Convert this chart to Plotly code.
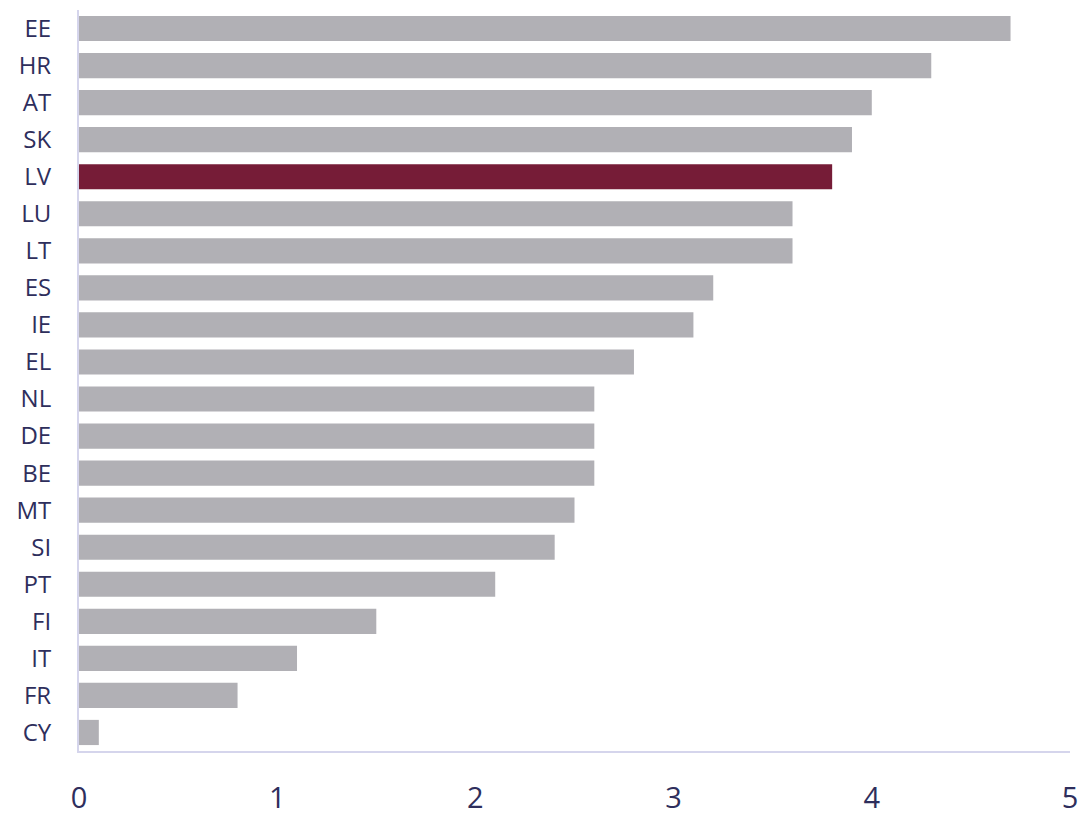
import plotly.graph_objects as go

countries = ["EE", "HR", "AT", "SK", "LV", "LU", "LT", "ES", "IE", "EL",
             "NL", "DE", "BE", "MT", "SI", "PT", "FI", "IT", "FR", "CY"]
values = [4.7, 4.3, 4.0, 3.9, 3.8, 3.6, 3.6, 3.2, 3.1, 2.8,
          2.6, 2.6, 2.6, 2.5, 2.4, 2.1, 1.5, 1.1, 0.8, 0.1]
highlight = "LV"
x_ticks = [0, 1, 2, 3, 4, 5]

gray = "#b1b0b5"
red = "#761c37"
colors = [red if c == highlight else gray for c in countries]
text_color = "#2e2e5c"
axis_color = "#d5d5ec"

fig = go.Figure(go.Bar(
    x=values, y=countries, orientation="h",
    marker=dict(color=colors, line=dict(width=0)),
))

fig.update_layout(
    width=1081, height=814,
    margin=dict(l=79, r=11, t=10, b=63, autoexpand=False),
    paper_bgcolor="white", plot_bgcolor="white",
    bargap=0.32,
    showlegend=False,
    font=dict(family="Open Sans", color=text_color),
)
fig.update_xaxes(
    range=[0, 5], tickvals=x_ticks, showgrid=False, zeroline=False,
    showline=True, linecolor=axis_color, linewidth=2,
    ticks="outside", ticklen=20, tickcolor="rgba(0,0,0,0)",
    tickfont=dict(size=29, color=text_color), automargin=False,
)
fig.update_yaxes(
    categoryorder="array", categoryarray=countries, autorange="reversed",
    showgrid=False, zeroline=False,
    showline=True, linecolor=axis_color, linewidth=2,
    ticks="outside", ticklen=21, tickcolor="rgba(0,0,0,0)",
    tickfont=dict(size=24, color=text_color), automargin=False,
)

fig.write_html(
    "out.html",
    config={"displayModeBar": False},
    post_script="document.body.style.margin='0';document.body.style.overflow='hidden';",
)
